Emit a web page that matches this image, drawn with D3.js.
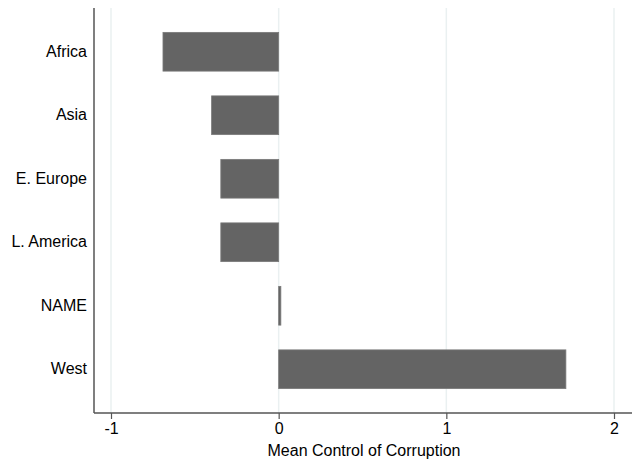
<!DOCTYPE html>
<html>
<head>
<meta charset="utf-8">
<script src="https://cdn.jsdelivr.net/npm/d3@7"></script>
<style>
  html, body { margin: 0; padding: 0; background: #fff; }
  svg { display: block; font-family: "Liberation Sans", Arial, Helvetica, sans-serif; }
</style>
</head>
<body>
<svg id="chart" width="632" height="464"></svg>
<script>
// Regional means of the Control of Corruption index
const regions = ["Africa", "Asia", "E. Europe", "L. America", "NAME", "West"];
const meanValues = [-0.69, -0.40, -0.345, -0.345, 0.013, 1.713];
const xTicks = [-1, 0, 1, 2];
const xTitle = "Mean Control of Corruption";

const svg = d3.select("#chart");
const axisLeftX = 94, axisBottomY = 413, plotTop = 8, plotRight = 632;
const fontSize = "16px";

const x = d3.scaleLinear().domain([-1, 2]).range([111, 614]);
const y = d3.scaleBand().domain(regions).range([20, 401]).paddingInner(0.39).paddingOuter(0.195);

// vertical grid lines
svg.append("g").selectAll("line").data(xTicks).join("line")
  .attr("x1", d => x(d)).attr("x2", d => x(d))
  .attr("y1", plotTop).attr("y2", axisBottomY)
  .attr("stroke", "#eaf0f1").attr("stroke-width", 1.5);

// bars
svg.append("g").selectAll("rect").data(regions).join("rect")
  .attr("x", (d, i) => x(Math.min(0, meanValues[i])))
  .attr("width", (d, i) => Math.abs(x(meanValues[i]) - x(0)))
  .attr("y", d => y(d))
  .attr("height", y.bandwidth())
  .attr("fill", "#646464")
  .attr("stroke", "#7a7a7a").attr("stroke-width", 0.8);

// bottom axis (plain hyphen for negative labels)
const xAxis = d3.axisBottom(x).tickValues(xTicks).tickSize(6).tickPadding(4)
  .tickFormat(d => String(d));
const gx = svg.append("g").attr("transform", `translate(0,${axisBottomY})`).call(xAxis);
gx.select(".domain").remove();
gx.selectAll(".tick line").attr("stroke", "#555").attr("stroke-width", 1.2);
gx.selectAll(".tick text").attr("fill", "#000").style("font-size", fontSize)
  .style("font-family", "'Liberation Sans', Arial, sans-serif");
svg.append("line").attr("x1", axisLeftX).attr("x2", plotRight)
  .attr("y1", axisBottomY).attr("y2", axisBottomY)
  .attr("stroke", "#555").attr("stroke-width", 1.5);

// left axis
const yAxis = d3.axisLeft(y).tickSize(0).tickPadding(7);
const gy = svg.append("g").attr("transform", `translate(${axisLeftX},0)`).call(yAxis);
gy.select(".domain").remove();
gy.selectAll(".tick text").attr("fill", "#000").style("font-size", fontSize)
  .style("font-family", "'Liberation Sans', Arial, sans-serif");
svg.append("line").attr("x1", axisLeftX).attr("x2", axisLeftX)
  .attr("y1", plotTop).attr("y2", axisBottomY)
  .attr("stroke", "#555").attr("stroke-width", 1.5);

// axis title
svg.append("text")
  .attr("x", 364).attr("y", 455.5)
  .attr("text-anchor", "middle")
  .style("font-size", fontSize)
  .attr("fill", "#000")
  .text(xTitle);
</script>
</body>
</html>
